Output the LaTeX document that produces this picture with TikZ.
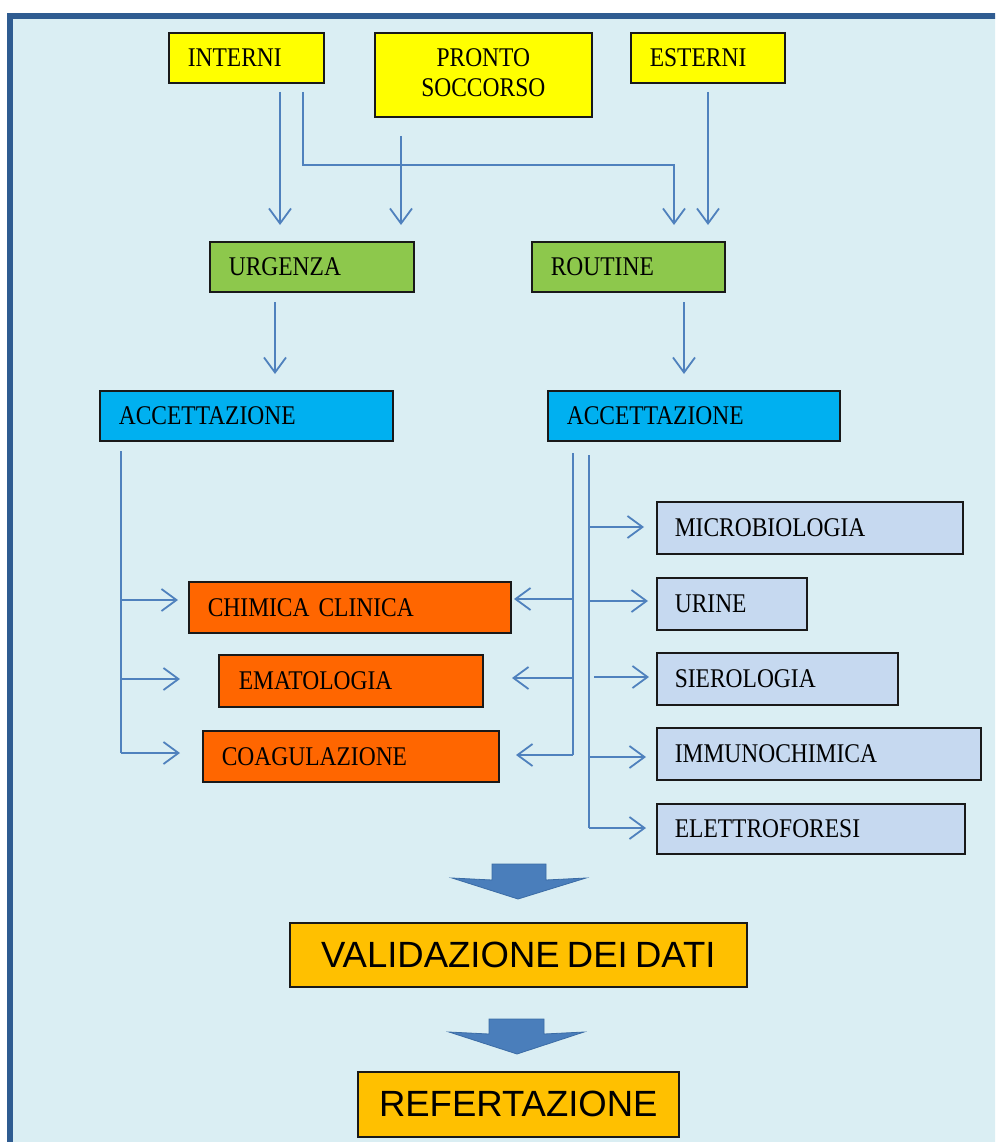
\documentclass[tikz,border=0pt]{standalone}
\usepackage{fontspec}
\usetikzlibrary{arrows.meta,calc}
\newfontfamily\boxfont{Liberation Serif}[FakeStretch=0.87]
\newfontfamily\bigfont{Liberation Sans}
\definecolor{bgblue}{HTML}{DAEEF3}
\definecolor{framecol}{HTML}{2F5C91}
\definecolor{conncol}{HTML}{4F81BD}
\definecolor{ylw}{HTML}{FFFF00}
\definecolor{grn}{HTML}{8DC84C}
\definecolor{cyanbox}{HTML}{00B0F0}
\definecolor{orng}{HTML}{FF6600}
\definecolor{lblue}{HTML}{C6D9F0}
\definecolor{gold}{HTML}{FFC000}
\definecolor{barrowfill}{HTML}{4A7EBB}
\definecolor{barrowline}{HTML}{3B6CA5}
\tikzset{
  box/.style={draw=black!90, line width=1.6pt, rectangle, anchor=north west,
    inner xsep=19pt, inner ysep=0pt, align=left,
    font=\boxfont\fontsize{27}{30}\selectfont},
  bigbox/.style={draw=black!90, line width=1.6pt, rectangle, anchor=north west,
    inner xsep=0pt, inner ysep=0pt, align=center, fill=gold,
    font=\bigfont\fontsize{36.5}{40}\selectfont},
  conn/.style={draw=conncol, line width=1.8pt,
    -{Straight Barb[length=15pt,width=22pt,line width=1.8pt]}},
  plainconn/.style={draw=conncol, line width=1.8pt},
  barrow/.style={fill=barrowfill, draw=barrowline, line width=0.8pt, line join=miter}
}
\begin{document}
\begin{tikzpicture}[x=1pt,y=-1pt]
\useasboundingbox (0,0) rectangle (995,1142);
\clip (0,0) rectangle (995,1142);
\fill[white] (0,0) rectangle (995,1142);
\draw[line width=6pt, draw=framecol, fill=bgblue] (10,16.5) rectangle (1020,1170);

% top sources
\node[box, fill=ylw, minimum width=155pt, minimum height=50pt, text width=117pt] (interni) at (168,32) {INTERNI};
\node[box, fill=ylw, minimum width=217pt, minimum height=84pt, text width=179pt, align=center] (pronto) at (374,32) {PRONTO\\SOCCORSO\vspace{4pt}};
\node[box, fill=ylw, minimum width=154pt, minimum height=50pt, text width=116pt] (esterni) at (630,32) {ESTERNI};

\node[box, fill=grn, minimum width=204pt, minimum height=50pt, text width=166pt] (urgenza) at (209,241) {URGENZA};
\node[box, fill=grn, minimum width=193pt, minimum height=50pt, text width=155pt] (routine) at (531,241) {ROUTINE};

\node[box, fill=cyanbox, minimum width=293pt, minimum height=50pt, text width=255pt] (accA) at (99,390) {ACCETTAZIONE};
\node[box, fill=cyanbox, minimum width=292pt, minimum height=50pt, text width=254pt] (accB) at (547,390) {ACCETTAZIONE};

\node[box, fill=orng, minimum width=322pt, minimum height=51pt, text width=284pt] (chimica) at (188,581) {CHIMICA CLINICA};
\node[box, fill=orng, minimum width=262pt, minimum height=52pt, text width=224pt, inner xsep=20pt] (emato) at (218,654) {EMATOLOGIA};
\node[box, fill=orng, minimum width=296pt, minimum height=51pt, text width=258pt] (coag) at (202,730) {COAGULAZIONE};

\node[box, fill=lblue, minimum width=306pt, minimum height=52pt, text width=270pt, inner xsep=17pt] (micro) at (656,501) {MICROBIOLOGIA};
\node[box, fill=lblue, minimum width=150pt, minimum height=52pt, text width=114pt, inner xsep=17pt] (urine) at (656,577) {URINE};
\node[box, fill=lblue, minimum width=241pt, minimum height=52pt, text width=205pt, inner xsep=17pt] (siero) at (656,652) {SIEROLOGIA};
\node[box, fill=lblue, minimum width=324pt, minimum height=52pt, text width=288pt, inner xsep=17pt] (immuno) at (656,727) {IMMUNOCHIMICA};
\node[box, fill=lblue, minimum width=308pt, minimum height=50pt, text width=272pt, inner xsep=17pt] (elettro) at (656,803) {ELETTROFORESI};

\node[bigbox, minimum width=457pt, minimum height=64pt, text width=457pt] (valid) at (289,922) {VALIDAZIONE\hspace{0.2em}DEI\hspace{0.2em}DATI};
\node[bigbox, minimum width=321pt, minimum height=65pt, text width=321pt] (refert) at (357,1071) {REFERTAZIONE};

% connector end points
\coordinate (i1s) at (280,92);
\coordinate (i1e) at (280,225);
\coordinate (i2s) at (303,92);
\coordinate (i2m) at (303,165);
\coordinate (i2n) at (674,165);
\coordinate (i2e) at (674,225);
\coordinate (ps) at (401,136);
\coordinate (pe) at (401,225);
\coordinate (es) at (708,92);
\coordinate (ee) at (708,225);
\coordinate (us) at (275,302);
\coordinate (ue) at (275,374);
\coordinate (rs) at (684,302);
\coordinate (re) at (684,374);

% left tree
\coordinate (lt) at (121,451);
\coordinate (lb) at (121,753);
\coordinate (l1) at (121,600);
\coordinate (l1e) at (178,600);
\coordinate (l2) at (121,679);
\coordinate (l2e) at (180,679);
\coordinate (l3e) at (180,753);

% right tree (to orange)
\coordinate (rt) at (573,453);
\coordinate (rb) at (573,755);
\coordinate (r1) at (573,599);
\coordinate (r1e) at (514,599);
\coordinate (r2) at (573,678);
\coordinate (r2e) at (512,678);
\coordinate (r3e) at (516,755);

% right tree (to light blue)
\coordinate (qt) at (589,455);
\coordinate (qb) at (589,828);
\coordinate (q1) at (589,527);
\coordinate (q1e) at (644,527);
\coordinate (q2) at (589,601);
\coordinate (q2e) at (648,601);
\coordinate (q3) at (594,677);
\coordinate (q3e) at (649,677);
\coordinate (q4) at (589,757);
\coordinate (q4e) at (646,757);
\coordinate (q5e) at (646,828);

% top connectors
\draw[conn] (i1s) -- (i1e);
\draw[conn] (i2s) -- (i2m) -- (i2n) -- (i2e);
\draw[conn] (ps) -- (pe);
\draw[conn] (es) -- (ee);
\draw[conn] (us) -- (ue);
\draw[conn] (rs) -- (re);

% left tree
\draw[plainconn] (lt) -- (lb);
\draw[conn] (l1) -- (l1e);
\draw[conn] (l2) -- (l2e);
\draw[conn] (lb) -- (l3e);

% right tree orange
\draw[plainconn] (rt) -- (rb);
\draw[conn] (r1) -- (r1e);
\draw[conn] (r2) -- (r2e);
\draw[conn] (rb) -- (r3e);

% right tree light blue
\draw[plainconn] (qt) -- (qb);
\draw[conn] (q1) -- (q1e);
\draw[conn] (q2) -- (q2e);
\draw[conn] (q3) -- (q3e);
\draw[conn] (q4) -- (q4e);
\draw[conn] (qb) -- (q5e);

% block arrows
\draw[barrow] (492,864) -- (546,864) -- (546,880) -- (586,878) -- (518,899) -- (452,878) -- (492,880) -- cycle;
\draw[barrow] (489,1019) -- (544,1019) -- (544,1034) -- (584,1032) -- (517,1054) -- (449,1032) -- (489,1034) -- cycle;
\end{tikzpicture}
\end{document}
